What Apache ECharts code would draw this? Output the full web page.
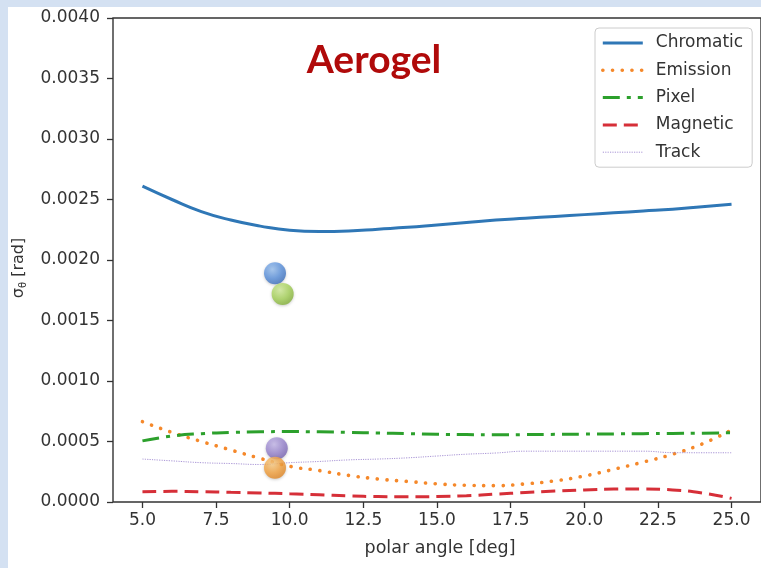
<!DOCTYPE html>
<html>
<head>
<meta charset="utf-8">
<script src="https://cdn.jsdelivr.net/npm/echarts@6/dist/echarts.min.js"></script>
<style>
  html, body { margin: 0; padding: 0; background: #ffffff; }
  #chart { width: 761px; height: 568px; }
</style>
</head>
<body>
<div id="chart"></div>
<script>
// Angular resolution contributions vs. polar angle (aerogel radiator)
const angles = [5, 6, 7, 8, 9, 10, 11, 12, 13, 14, 15, 16, 17, 18, 19, 20, 21, 22, 23, 24, 25];
const chromatic = [0.00261, 0.00250, 0.00240, 0.00233, 0.00228, 0.002245, 0.002235, 0.00224, 0.002255, 0.00227, 0.00229,
                   0.00231, 0.00233, 0.002345, 0.00236, 0.002375, 0.00239, 0.002405, 0.00242, 0.00244, 0.00246];
const emission  = [0.000664, 0.000575, 0.000500, 0.000430, 0.000360, 0.000295, 0.000260, 0.000220, 0.000190, 0.000170, 0.000150,
                   0.000138, 0.000135, 0.000150, 0.000175, 0.000215, 0.000270, 0.000330, 0.000395, 0.000480, 0.000595];
const pixel     = [0.000505, 0.000545, 0.000565, 0.000575, 0.000580, 0.000582, 0.000580, 0.000575, 0.000570, 0.000565, 0.000560,
                   0.000557, 0.000556, 0.000557, 0.000559, 0.000561, 0.000563, 0.000565, 0.000567, 0.000569, 0.000572];
const magnetic  = [0.000085, 0.000088, 0.000085, 0.000080, 0.000075, 0.000068, 0.000060, 0.000050, 0.000045, 0.000043, 0.000045,
                   0.000052, 0.000065, 0.000078, 0.000090, 0.000100, 0.000107, 0.000108, 0.000100, 0.000075, 0.000030];
const track     = [0.000355, 0.000340, 0.000325, 0.000318, 0.000310, 0.000325, 0.000335, 0.000348, 0.000355, 0.000365, 0.000380,
                   0.000395, 0.000405, 0.000420, 0.000420, 0.000420, 0.000420, 0.000420, 0.000408, 0.000407, 0.000407];

// Measured points (shown as shaded balls)
const pointAngles = [9.50, 9.76, 9.56, 9.50];
const pointValues = [0.00189, 0.00172, 0.000444, 0.000283];

const xTicks = [5, 7.5, 10, 12.5, 15, 17.5, 20, 22.5, 25];
const seriesNames = ['Chromatic', 'Emission', 'Pixel', 'Magnetic', 'Track'];

const pairs = ys => angles.map((a, i) => [a, ys[i]]);

function ball(base, light, dark) {
  return {
    type: 'radial', x: 0.38, y: 0.32, r: 0.75,
    colorStops: [
      { offset: 0, color: light },
      { offset: 0.55, color: base },
      { offset: 1, color: dark }
    ]
  };
}
const ballColors = [
  ball('#5b92de', '#9cc3f2', '#3a6cb8'),
  ball('#a8d45a', '#d4ee9c', '#80ad36'),
  ball('#9a86d0', '#c6b9ec', '#7460b0'),
  ball('#f6a440', '#fcd08a', '#de8322')
];

// line styles per series: colour, width, dash pattern, cap
const styles = {
  Chromatic: { color: '#2f77b6', width: 3,   type: 'solid',        cap: 'butt' },
  Emission:  { color: '#f5882a', width: 3.6, type: [0.1, 9.6],     cap: 'round' },
  Pixel:     { color: '#2ca02c', width: 3,   type: [17, 7, 4, 7],  cap: 'butt' },
  Magnetic:  { color: '#d62f38', width: 3,   type: [14, 7],        cap: 'butt' },
  Track:     { color: '#a995d6', width: 1,   type: [1.2, 1.2],     cap: 'butt' }
};
const seriesValues = { Chromatic: chromatic, Emission: emission, Pixel: pixel, Magnetic: magnetic, Track: track };

const axisFont = 'DejaVu Sans';
const chart = echarts.init(document.getElementById('chart'));

const lineSeries = seriesNames.map(name => ({
  name: name, type: 'line', data: pairs(seriesValues[name]), smooth: true, symbol: 'none',
  lineStyle: Object.assign({}, styles[name]),
  itemStyle: { color: styles[name].color },
  z: 2
}));

chart.setOption({
  animation: false,
  backgroundColor: '#ffffff',
  grid: {
    left: 113, top: 18, width: 649, height: 484,
    show: true, borderColor: '#333333', borderWidth: 1.4, backgroundColor: 'transparent'
  },
  xAxis: {
    type: 'value', min: 4, max: 26,
    axisLine: { show: false },
    splitLine: { show: false },
    axisTick: { show: true, customValues: xTicks, length: 6, inside: false, lineStyle: { color: '#333', width: 1.3 } },
    axisLabel: { customValues: xTicks, margin: 10, fontSize: 17, color: '#333', fontFamily: axisFont,
                 formatter: v => v.toFixed(1) }
  },
  yAxis: {
    type: 'value', min: 0, max: 0.004, interval: 0.0005,
    axisLine: { show: false },
    splitLine: { show: false },
    axisTick: { show: true, length: 6, lineStyle: { color: '#333', width: 1.3 } },
    axisLabel: { margin: 13, fontSize: 17, color: '#333', fontFamily: axisFont, formatter: v => v.toFixed(4) }
  },
  legend: {
    data: seriesNames.map(name => ({ name: name, lineStyle: Object.assign({}, styles[name]) })),
    orient: 'vertical', left: 595, top: 28,
    padding: [5, 9, 5, 6],
    itemWidth: 40, itemHeight: 12, itemGap: 7.3,
    itemStyle: { opacity: 0 },
    borderColor: '#cccccc', borderWidth: 1, borderRadius: 4,
    backgroundColor: 'rgba(255,255,255,0.85)',
    textStyle: { fontSize: 17, color: '#333', fontFamily: axisFont, lineHeight: 20, padding: [0, 0, 0, 8] }
  },
  graphic: [
    { type: 'rect', z: -1, shape: { x: 0, y: 0, width: 8, height: 568 }, style: { fill: '#d4e1f2' } },
    { type: 'rect', z: -1, shape: { x: 0, y: 0, width: 761, height: 7 }, style: { fill: '#d4e1f2' } },
    {
      type: 'text', x: 374, y: 60, z: 10,
      style: { text: 'Aerogel', fontFamily: 'Lato', fontWeight: 'bold', fontSize: 39, fill: '#b00a0a',
               align: 'center', verticalAlign: 'middle' }
    },
    {
      type: 'text', x: 440, y: 548,
      style: { text: 'polar angle [deg]', fontFamily: axisFont, fontSize: 17.5, fill: '#333',
               align: 'center', verticalAlign: 'middle' }
    },
    {
      type: 'text', x: 19, y: 268, rotation: Math.PI / 2,
      style: {
        text: '{a|σ}{b|θ}{a| [rad]}',
        align: 'center', verticalAlign: 'middle',
        rich: {
          a: { fontFamily: axisFont, fontSize: 16, fill: '#333', color: '#333' },
          b: { fontFamily: axisFont, fontSize: 10, fill: '#333', color: '#333', padding: [8, 0, 0, 0] }
        }
      }
    }
  ],
  series: lineSeries.concat([
    {
      name: 'points', type: 'scatter', symbolSize: 22, z: 5,
      data: pointAngles.map((a, i) => ({
        value: [a, pointValues[i]],
        itemStyle: { color: ballColors[i], shadowBlur: 3, shadowColor: 'rgba(0,0,0,0.25)', shadowOffsetY: 1 }
      }))
    }
  ])
});
</script>
</body>
</html>
